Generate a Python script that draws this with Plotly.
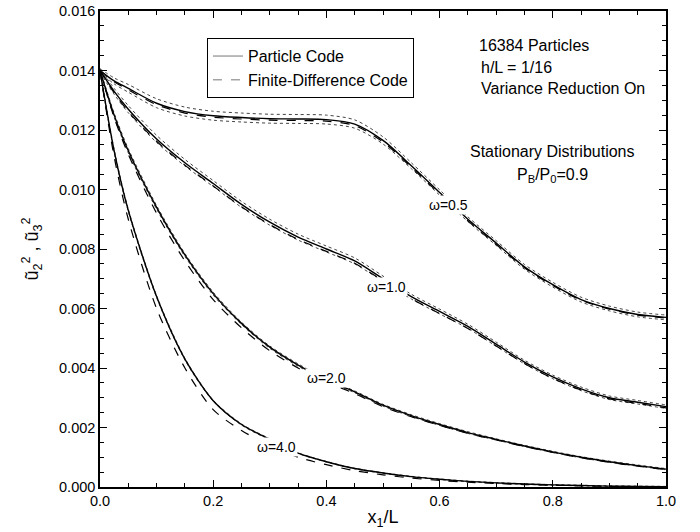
import plotly.graph_objects as go

# Axial stations x1/L shared by every profile
x_pos = [0, 0.025, 0.05, 0.1, 0.15, 0.2, 0.25, 0.3, 0.35, 0.4, 0.45, 0.5,
         0.55, 0.6, 0.65, 0.7, 0.75, 0.8, 0.85, 0.9, 0.95, 1.0]

# Particle code profiles of u2^2, u3^2
particle_w05 = [0.0140, 0.01365, 0.0134, 0.0129, 0.01262, 0.01248, 0.01242, 0.01238, 0.01237, 0.01235, 0.0122,
                0.01165, 0.0108, 0.0099, 0.0090, 0.0082, 0.0074, 0.0068, 0.0063, 0.0060, 0.0058, 0.0057]
particle_w10 = [0.0140, 0.0133, 0.0127, 0.0117, 0.0109, 0.0102, 0.0095, 0.0089, 0.0084, 0.0080, 0.0076,
                0.0070, 0.0064, 0.0059, 0.0054, 0.0048, 0.0042, 0.0037, 0.0033, 0.0030, 0.00285, 0.0027]
particle_w20 = [0.0140, 0.0125, 0.0113, 0.0094, 0.0078, 0.0065, 0.0055, 0.0047, 0.0041, 0.0036, 0.0032,
                0.00275, 0.0024, 0.0021, 0.00183, 0.0016, 0.00138, 0.00118, 0.0010, 0.00085, 0.00072, 0.0006]
particle_w40 = [0.0140, 0.0113, 0.0093, 0.0064, 0.0043, 0.0029, 0.0021, 0.0016, 0.00114, 0.00085, 0.00062,
                0.00047, 0.00035, 0.00026, 0.00019, 0.00014, 0.0001, 0.00007, 0.00005, 0.00003, 0.00002, 0.00001]

# Finite-difference code profiles
fd_w05 = [0.0140, 0.01362, 0.01335, 0.01285, 0.01257, 0.01243, 0.01237, 0.01233, 0.01232, 0.0123, 0.01215,
          0.0116, 0.01075, 0.00985, 0.00895, 0.00815, 0.00737, 0.00677, 0.00628, 0.00598, 0.00578, 0.00568]
fd_w10 = [0.0140, 0.01325, 0.01262, 0.01162, 0.01082, 0.01012, 0.00942, 0.00882, 0.00832, 0.00792, 0.00752,
          0.00693, 0.00633, 0.00583, 0.00533, 0.00474, 0.00415, 0.00365, 0.00326, 0.00296, 0.00281, 0.00266]
fd_w20 = [0.0140, 0.01242, 0.01118, 0.0092, 0.0076, 0.0063, 0.00535, 0.00458, 0.0040, 0.00353, 0.00314,
          0.0027, 0.00236, 0.00207, 0.0018, 0.00158, 0.00136, 0.00116, 0.00098, 0.00083, 0.0007, 0.00058]
fd_w40 = [0.0140, 0.0111, 0.0090, 0.0060, 0.0040, 0.0026, 0.0019, 0.0014, 0.0010, 0.00075, 0.00055,
          0.00041, 0.0003, 0.00022, 0.00016, 0.00012, 0.00008, 0.00006, 0.00004, 0.00002, 0.00001, 0.0]

# Statistical scatter of the particle code (half-width of the dotted band)
scatter_w05 = [0.00006, 0.0001, 0.00013, 0.00015, 0.00015, 0.00015, 0.00015, 0.00015, 0.00015, 0.00015, 0.00014,
               0.00012, 0.0001, 0.00009, 0.00008, 0.00008, 0.00008, 0.00008, 0.00008, 0.00008, 0.00008, 0.00008]
scatter_w10 = [0.00006, 0.0001, 0.00012, 0.00012, 0.00011, 0.0001, 0.0001, 0.0001, 0.0001, 0.0001, 0.0001,
               0.00009, 0.00008, 0.00008, 0.00007, 0.00007, 0.00006, 0.00006, 0.00006, 0.00006, 0.00006, 0.00006]
scatter_w20 = [0.00005, 0.00007, 0.00007, 0.00006, 0.00005, 0.00005, 0.00004, 0.00004, 0.00004, 0.00003, 0.00003,
               0.00003, 0.00003, 0.00003, 0.00003, 0.00002, 0.00002, 0.00002, 0.00002, 0.00002, 0.00002, 0.00002]
scatter_w40 = [0.00004, 0.00005, 0.00004, 0.00003, 0.00003, 0.00002, 0.00002, 0.00002, 0.00001, 0.00001, 0.00001,
               0.00001, 0.00001, 0.00001, 0.00001, 0.00001, 0.00001, 0.00001, 0.00001, 0.00001, 0.00001, 0.00001]

omega_labels = ["ω=0.5", "ω=1.0", "ω=2.0", "ω=4.0"]
label_x = [0.615, 0.507, 0.40, 0.311]
label_y = [0.00948, 0.00672, 0.00366, 0.00134]

particle = [particle_w05, particle_w10, particle_w20, particle_w40]
fd = [fd_w05, fd_w10, fd_w20, fd_w40]
scatter = [scatter_w05, scatter_w10, scatter_w20, scatter_w40]

FONT = "Liberation Sans, Arial, Helvetica, sans-serif"

fig = go.Figure()

for p, f, s in zip(particle, fd, scatter):
    upper = [a + b for a, b in zip(p, s)]
    lower = [a - b for a, b in zip(p, s)]
    for band in (upper, lower):
        fig.add_trace(go.Scatter(x=x_pos, y=band, mode="lines", showlegend=False,
                                 line=dict(color="#444444", width=1, dash="dot", shape="spline", smoothing=0.8),
                                 hoverinfo="skip"))
    fig.add_trace(go.Scatter(x=x_pos, y=f, mode="lines", showlegend=False,
                             line=dict(color="black", width=1.2, dash="dash", shape="spline", smoothing=0.8)))
    fig.add_trace(go.Scatter(x=x_pos, y=p, mode="lines", showlegend=False,
                             line=dict(color="black", width=1.4, shape="spline", smoothing=0.8)))

# Legend entries
fig.add_trace(go.Scatter(x=[None], y=[None], mode="lines", name="Particle Code",
                         line=dict(color="#777777", width=1)))
fig.add_trace(go.Scatter(x=[None], y=[None], mode="lines", name="Finite-Difference Code",
                         line=dict(color="#777777", width=1, dash="dash")))

# Curve labels (white boxes break the lines beneath)
for txt, lx, ly in zip(omega_labels, label_x, label_y):
    fig.add_annotation(x=lx, y=ly, xref="x", yref="y", text=txt, showarrow=False,
                       font=dict(family=FONT, size=14, color="black"),
                       bgcolor="white", borderpad=1)

info = [
    ("16384 Particles", 0.666, 0.9265, "left"),
    ("h/L = 1/16", 0.670, 0.882, "left"),
    ("Variance Reduction On", 0.670, 0.838, "left"),
    ("Stationary Distributions", 0.799, 0.704, "center"),
    ("P<sub>B</sub>/P<sub>0</sub>=0.9", 0.799, 0.655, "center"),
]
for txt, ax, ay, anc in info:
    fig.add_annotation(x=ax, y=ay, xref="paper", yref="paper", text=txt, showarrow=False,
                       xanchor=anc, yanchor="middle",
                       font=dict(family=FONT, size=16, color="black"))

axis_common = dict(
    showgrid=False, zeroline=False, showline=True, linecolor="black", linewidth=1.5,
    mirror="allticks", ticks="inside", ticklen=7, tickwidth=1, tickcolor="black",
    tickfont=dict(family=FONT, size=14.5, color="black"), automargin=False,
)

fig.update_xaxes(range=[0, 1.0], dtick=0.2, tickformat=".1f",
                 minor=dict(dtick=0.05, ticks="inside", ticklen=4, tickcolor="black"),
                 title=dict(text="x<sub>1</sub>/L", font=dict(family=FONT, size=18, color="black"), standoff=2),
                 **axis_common)
fig.update_yaxes(range=[0, 0.016], dtick=0.002, tickformat=".3f",
                 minor=dict(dtick=0.0005, ticks="inside", ticklen=4, tickcolor="black"),
                 title=dict(text="u\u0303<sub>2</sub><sup>2</sup> , u\u0303<sub>3</sub><sup>2</sup>",
                            font=dict(family=FONT, size=18, color="black"), standoff=16),
                 **axis_common)

fig.update_layout(
    width=700, height=532,
    margin=dict(l=100, r=34, t=11, b=45),
    paper_bgcolor="white", plot_bgcolor="white",
    legend=dict(x=0.189, y=0.943, xanchor="left", yanchor="top",
                bordercolor="black", borderwidth=1, bgcolor="white",
                font=dict(family=FONT, size=16, color="black")),
)

fig.write_html("out.html")
